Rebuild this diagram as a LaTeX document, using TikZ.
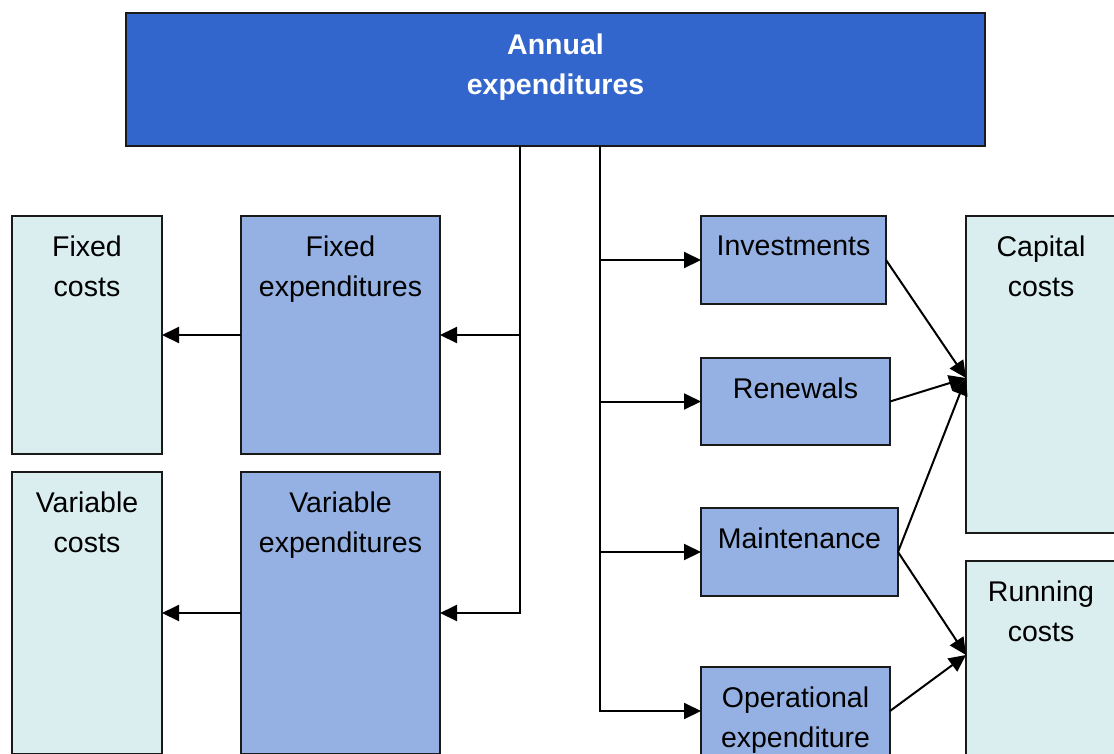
\documentclass[tikz,border=0pt]{standalone}
\usepackage{fontspec}
\setmainfont{Liberation Sans}
\usetikzlibrary{arrows.meta,calc}
\definecolor{topblue}{HTML}{3366CC}
\definecolor{midblue}{HTML}{95B1E3}
\definecolor{lightcyan}{HTML}{DAEEF0}
\definecolor{edge}{HTML}{1A1A1A}
\begin{document}
\begin{tikzpicture}[x=1pt,y=-1pt,
  box/.style={draw=edge, line width=1.8pt, anchor=north west, inner sep=0pt, outer sep=0pt},
  costbox/.style={box, fill=lightcyan},
  expbox/.style={box, fill=midblue},
  topbox/.style={box, fill=topblue},
  txt/.style={font=\fontsize{28.5}{40}\selectfont, align=center, inner sep=0pt, anchor=north, text=black},
  toptxt/.style={txt, font=\fontsize{28.5}{40}\selectfont\bfseries, text=white},
  conn/.style={line width=2pt, draw=black},
  arr/.style={conn, -{Triangle[length=17pt,width=16pt]}}]
\clip (0,0) rectangle (1114,753);
\fill[white] (0,0) rectangle (1114,753);

% boxes
\node[topbox, minimum width=859pt, minimum height=133pt] (top) at (126,13) {};
\node[costbox, minimum width=150pt, minimum height=238pt] (fc) at (12,216) {};
\node[costbox, minimum width=150pt, minimum height=282pt] (vc) at (12,472) {};
\node[expbox, minimum width=199pt, minimum height=238pt] (fe) at (241,216) {};
\node[expbox, minimum width=199pt, minimum height=282pt] (ve) at (241,472) {};
\node[expbox, minimum width=185pt, minimum height=88pt] (inv) at (701,216) {};
\node[expbox, minimum width=189pt, minimum height=87pt] (ren) at (701,358) {};
\node[expbox, minimum width=197pt, minimum height=88pt] (mnt) at (701,508) {};
\node[expbox, minimum width=189pt, minimum height=88pt] (op) at (701,667) {};
\node[costbox, minimum width=150pt, minimum height=317pt] (cc) at (966,216) {};
\node[costbox, minimum width=150pt, minimum height=200pt] (rc) at (966,561) {};

% texts
\node[toptxt] (topt) at ([yshift=-21pt]top.north) {Annual\\expenditures};
\node[txt] (fct) at ([yshift=-20pt]fc.north) {Fixed\\costs};
\node[txt] (vct) at ([yshift=-20pt]vc.north) {Variable\\costs};
\node[txt] (fet) at ([yshift=-20pt]fe.north) {Fixed\\expenditures};
\node[txt] (vet) at ([yshift=-20pt]ve.north) {Variable\\expenditures};
\node[txt] (invt) at ([yshift=-20pt]inv.north) {Investments};
\node[txt] (rent) at ([yshift=-20pt]ren.north) {Renewals};
\node[txt] (mntt) at ([yshift=-20pt]mnt.north) {Maintenance};
\node[txt] (opt) at ([yshift=-20pt]op.north) {Operational\\expenditure};
\node[txt] (cct) at ([yshift=-20pt]cc.north) {Capital\\costs};
\node[txt] (rct) at ([yshift=-20pt]rc.north) {Running\\costs};

% trunks
\coordinate (lt) at (520,146);
\coordinate (rt) at (600,146);
\draw[arr] (lt) |- (ve.east);
\draw[arr] (lt |- fe.east) -- (fe.east);
\draw[arr] (rt) |- (op.west);
\draw[arr] (rt |- inv.west) -- (inv.west);
\draw[arr] (rt |- ren.west) -- (ren.west);
\draw[arr] (rt |- mnt.west) -- (mnt.west);

% left arrows
\draw[arr] (fe.west) -- (fc.east);
\draw[arr] (ve.west) -- (vc.east);

% right arrows
\coordinate (ccin) at ([yshift=-162pt]cc.north west);
\coordinate (rcin) at ([yshift=-94pt]rc.north west);
\draw[arr] (inv.east) -- (ccin);
\draw[arr] (ren.east) -- (ccin);
\draw[arr] (mnt.east) -- (ccin);
\draw[arr] (mnt.east) -- (rcin);
\draw[arr] (op.east) -- (rcin);
\end{tikzpicture}
\end{document}
